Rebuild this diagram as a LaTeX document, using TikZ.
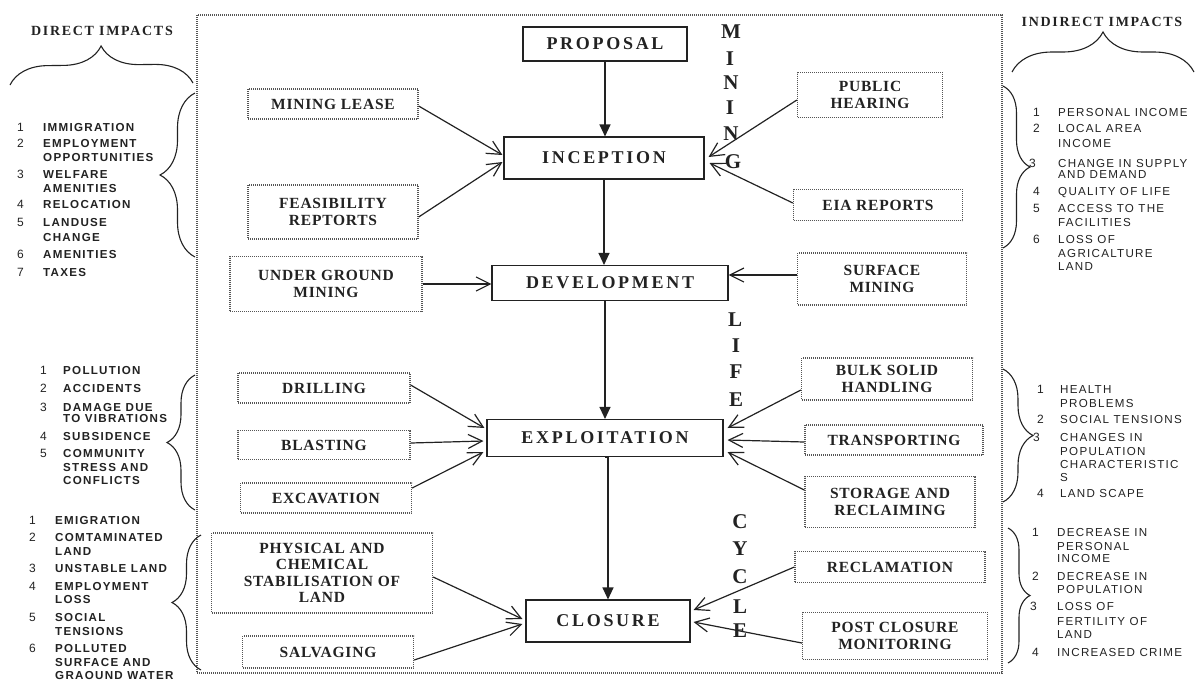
\documentclass[tikz,border=0pt]{standalone}
\usepackage{fontspec}
\setmainfont{Liberation Serif}
\newfontfamily\mainlab{Liberation Serif}[LetterSpace=15]
\newfontfamily\sidelab{Liberation Serif}[LetterSpace=5]
\newfontfamily\headlab{Liberation Serif}[LetterSpace=12]
\newfontfamily\listlab{Liberation Sans}[LetterSpace=11]
\newfontfamily\numlab{Liberation Sans}
\usetikzlibrary{arrows.meta,decorations.pathreplacing}
\definecolor{ink}{HTML}{222222}
\definecolor{dots}{HTML}{555555}
\begin{document}
\begin{tikzpicture}[x=1pt,y=-1pt,
  mainbox/.style={draw=ink, line width=1.1pt, inner sep=0pt, text=ink,
    font=\mainlab\bfseries\fontsize{18}{20}\selectfont},
  sidebox/.style={draw=dots, line width=1.3pt, dash pattern=on 1pt off 1pt,
    inner sep=0pt, align=center, text=ink,
    font=\sidelab\bfseries\fontsize{15.5}{16.5}\selectfont},
  link/.style={draw=ink, line width=1.2pt, -{Straight Barb[length=14pt,width=14pt]}},
  flow/.style={draw=ink, line width=1.1pt, -{Triangle[length=12pt,width=11pt]}},
  stage/.style={text=ink, inner sep=0pt, font=\mainlab\bfseries\fontsize{21}{21}\selectfont},
  head/.style={text=ink, inner sep=0pt, font=\headlab\bfseries\fontsize{14}{15}\selectfont},
  impl/.style={anchor=base west, inner sep=0pt, text=ink,
    font=\listlab\bfseries\fontsize{11.6}{12}\selectfont},
  impr/.style={anchor=base west, inner sep=0pt, text=ink,
    font=\listlab\fontsize{11.6}{12}\selectfont},
  num/.style={anchor=base west, inner sep=0pt, text=ink,
    font=\numlab\fontsize{12}{12}\selectfont},
  curly/.style={draw=ink, line width=1.1pt, decorate, decoration={brace, amplitude=#1}},
  frame/.style={draw=dots, line width=1.1pt, dash pattern=on 1pt off 1pt}
]
\useasboundingbox (0,0) rectangle (1197,681);

% outer frame around the life cycle
\draw[frame] (197,15) rectangle (1002,673);

% main stages
\node[mainbox, minimum width=164pt, minimum height=34pt] (prop) at (605,44) {PROPOSAL};
\node[mainbox, minimum width=200pt, minimum height=42pt] (incep) at (604,158) {INCEPTION};
\node[mainbox, minimum width=236pt, minimum height=35pt] (devel) at (610,283) {DEVELOPMENT};
\node[mainbox, minimum width=236pt, minimum height=37pt] (exploit) at (605,438) {EXPLOITATION};
\node[mainbox, minimum width=164pt, minimum height=42pt] (closure) at (608,621) {CLOSURE};

% side activities
\node[sidebox, minimum width=170pt, minimum height=30pt] (lease) at (333,104) {MINING LEASE};
\node[sidebox, minimum width=170pt, minimum height=54pt] (feas) at (333,212) {FEASIBILITY\\REPTORTS};
\node[sidebox, minimum width=192pt, minimum height=55pt] (ug) at (326,284) {UNDER GROUND\\MINING};
\node[sidebox, minimum width=172pt, minimum height=30pt] (drill) at (324,388) {DRILLING};
\node[sidebox, minimum width=172pt, minimum height=29pt] (blast) at (324,445) {BLASTING};
\node[sidebox, minimum width=171pt, minimum height=30pt] (excav) at (326,498) {EXCAVATION};
\node[sidebox, minimum width=221pt, minimum height=80pt] (phys) at (322,573) {PHYSICAL AND\\CHEMICAL\\STABILISATION OF\\LAND};
\node[sidebox, minimum width=171pt, minimum height=32pt] (salv) at (328,652) {SALVAGING};

\node[sidebox, minimum width=145pt, minimum height=45pt] (pub) at (870,95) {PUBLIC\\HEARING};
\node[sidebox, minimum width=169pt, minimum height=31pt] (eia) at (878,205) {EIA REPORTS};
\node[sidebox, minimum width=169pt, minimum height=52pt] (surf) at (882,279) {SURFACE\\MINING};
\node[sidebox, minimum width=171pt, minimum height=42pt] (bulk) at (887,379) {BULK SOLID\\HANDLING};
\node[sidebox, minimum width=178pt, minimum height=30pt] (trans) at (894,440) {TRANSPORTING};
\node[sidebox, minimum width=170pt, minimum height=51pt] (stor) at (890,502) {STORAGE AND\\RECLAIMING};
\node[sidebox, minimum width=190pt, minimum height=31pt] (recl) at (890,567) {RECLAMATION};
\node[sidebox, minimum width=185pt, minimum height=47pt] (post) at (895,636) {POST CLOSURE\\MONITORING};

% flow between stages
\draw[flow] (prop.south) -- (prop.south |- incep.north);
\draw[flow] (incep.south) -- (incep.south |- devel.north);
\draw[flow] (exploit.north |- devel.south) -- (exploit.north);
\draw[flow] (exploit.south) -- (exploit.south -| closure.north) -- (closure.north);

% inputs to the stages
\draw[link] ([yshift=-2pt]lease.east) -- ([xshift=-1pt,yshift=3pt]incep.west);
\draw[link] ([yshift=-5pt]feas.east) -- ([xshift=-1pt,yshift=-4pt]incep.west);
\draw[link] ([yshift=-5pt]pub.west) -- ([xshift=4pt,yshift=1pt]incep.east);
\draw[link] ([yshift=2pt]eia.west) -- ([xshift=5pt,yshift=-5pt]incep.east);
\draw[link] (ug.east) -- (ug.east -| devel.west);
\draw[link] ([yshift=4pt]surf.west) -- ([yshift=4pt]surf.west -| devel.east);
\draw[link] ([yshift=3pt]drill.east) -- ([xshift=-2pt,yshift=10pt]exploit.west);
\draw[link] ([yshift=2pt]blast.east) -- ([xshift=-3pt,yshift=-3pt]exploit.west);
\draw[link] ([yshift=10pt]excav.east) -- ([xshift=-3pt,yshift=-14pt]exploit.west);
\draw[link] ([yshift=-11pt]bulk.west) -- ([xshift=4pt,yshift=10pt]exploit.east);
\draw[link] ([yshift=-2pt]trans.west) -- ([xshift=4pt,yshift=-2pt]exploit.east);
\draw[link] ([yshift=12pt]stor.west) -- ([xshift=4pt,yshift=-14pt]exploit.east);
\draw[link] ([yshift=-4pt]phys.east) -- ([xshift=-3pt,yshift=2pt]closure.west);
\draw[link] ([yshift=-8pt]salv.east) -- ([xshift=-3pt,yshift=-3pt]closure.west);
\draw[link] (recl.west) -- ([xshift=3pt,yshift=11pt]closure.east);
\draw[link] ([yshift=-7pt]post.west) -- ([xshift=3pt,yshift=-1pt]closure.east);

% vertical title
\node[stage] (t1) at (731,32) {M};
\node[stage] (t2) at (730,59) {I};
\node[stage] (t3) at (731,83) {N};
\node[stage] (t4) at (730,108) {I};
\node[stage] (t5) at (731,134) {N};
\node[stage] (t6) at (733,162) {G};
\node[stage] (t7) at (735,320) {L};
\node[stage] (t8) at (736,346) {I};
\node[stage] (t9) at (736,372) {F};
\node[stage] (t10) at (736,400) {E};
\node[stage] (t11) at (740,522) {C};
\node[stage] (t12) at (740,549) {Y};
\node[stage] (t13) at (740,577) {C};
\node[stage] (t14) at (740,607) {L};
\node[stage] (t15) at (740,631) {E};

% headings and their braces
\node[head] (dir) at (102,31) {DIRECT IMPACTS};
\node[head] (ind) at (1102,22) {INDIRECT IMPACTS};
\draw[curly=38] (10,85) -- (193,83);
\draw[curly=40] (1012,72) -- (1194,72);

% direct impacts braces
\draw[curly=35] (195,257) -- (195,93);
\draw[curly=28] (195,510) -- (195,375);
\draw[curly=29] (201,670) -- (201,535);
% indirect impacts braces
\draw[curly=27] (1003,86) -- (1003,248);
\draw[curly=30] (1003,369) -- (1003,502);
\draw[curly=22] (1008,528) -- (1008,663);

% direct impacts: inception and development
\node[num] (a1n) at (17,131) {1};
\node[impl] (a1) at (43,131) {IMMIGRATION};
\node[num] (a2n) at (17,147) {2};
\node[impl] (a2) at (43,147) {EMPLOYMENT};
\node[impl] (a2b) at (43,161) {OPPORTUNITIES};
\node[num] (a3n) at (17,178) {3};
\node[impl] (a3) at (43,178) {WELFARE};
\node[impl] (a3b) at (43,192) {AMENITIES};
\node[num] (a4n) at (17,208) {4};
\node[impl] (a4) at (43,208) {RELOCATION};
\node[num] (a5n) at (17,226) {5};
\node[impl] (a5) at (43,226) {LANDUSE};
\node[impl] (a5b) at (43,241) {CHANGE};
\node[num] (a6n) at (17,258) {6};
\node[impl] (a6) at (43,258) {AMENITIES};
\node[num] (a7n) at (17,276) {7};
\node[impl] (a7) at (43,276) {TAXES};

% direct impacts: exploitation
\node[num] (b1n) at (40,374) {1};
\node[impl] (b1) at (63,374) {POLLUTION};
\node[num] (b2n) at (40,392) {2};
\node[impl] (b2) at (63,392) {ACCIDENTS};
\node[num] (b3n) at (40,411) {3};
\node[impl] (b3) at (63,411) {DAMAGE DUE};
\node[impl] (b3b) at (63,422) {TO VIBRATIONS};
\node[num] (b4n) at (40,440) {4};
\node[impl] (b4) at (63,440) {SUBSIDENCE};
\node[num] (b5n) at (40,457) {5};
\node[impl] (b5) at (63,457) {COMMUNITY};
\node[impl] (b5b) at (63,471) {STRESS AND};
\node[impl] (b5c) at (63,484) {CONFLICTS};

% direct impacts: closure
\node[num] (c1n) at (29,524) {1};
\node[impl] (c1) at (55,524) {EMIGRATION};
\node[num] (c2n) at (29,541) {2};
\node[impl] (c2) at (55,541) {COMTAMINATED};
\node[impl] (c2b) at (55,555) {LAND};
\node[num] (c3n) at (29,572) {3};
\node[impl] (c3) at (55,572) {UNSTABLE LAND};
\node[num] (c4n) at (29,590) {4};
\node[impl] (c4) at (55,590) {EMPLOYMENT};
\node[impl] (c4b) at (55,603) {LOSS};
\node[num] (c5n) at (29,621) {5};
\node[impl] (c5) at (55,621) {SOCIAL};
\node[impl] (c5b) at (55,635) {TENSIONS};
\node[num] (c6n) at (29,652) {6};
\node[impl] (c6) at (55,652) {POLLUTED};
\node[impl] (c6b) at (55,666) {SURFACE AND};
\node[impl] (c6c) at (55,679) {GRAOUND WATER};

% indirect impacts: inception and development
\node[num] (d1n) at (1033,116) {1};
\node[impr] (d1) at (1058,116) {PERSONAL INCOME};
\node[num] (d2n) at (1033,132) {2};
\node[impr] (d2) at (1058,132) {LOCAL AREA};
\node[impr] (d2b) at (1058,147) {INCOME};
\node[num] (d3n) at (1029,167) {3};
\node[impr] (d3) at (1058,167) {CHANGE IN SUPPLY};
\node[impr] (d3b) at (1058,178) {AND DEMAND};
\node[num] (d4n) at (1033,195) {4};
\node[impr] (d4) at (1058,195) {QUALITY OF LIFE};
\node[num] (d5n) at (1033,212) {5};
\node[impr] (d5) at (1058,212) {ACCESS TO THE};
\node[impr] (d5b) at (1058,226) {FACILITIES};
\node[num] (d6n) at (1033,243) {6};
\node[impr] (d6) at (1058,243) {LOSS OF};
\node[impr] (d6b) at (1058,257) {AGRICALTURE};
\node[impr] (d6c) at (1058,270) {LAND};

% indirect impacts: exploitation
\node[num] (e1n) at (1037,393) {1};
\node[impr] (e1) at (1060,393) {HEALTH};
\node[impr] (e1b) at (1060,407) {PROBLEMS};
\node[num] (e2n) at (1037,423) {2};
\node[impr] (e2) at (1060,423) {SOCIAL TENSIONS};
\node[num] (e3n) at (1033,441) {3};
\node[impr] (e3) at (1060,441) {CHANGES IN};
\node[impr] (e3b) at (1060,455) {POPULATION};
\node[impr] (e3c) at (1060,468) {CHARACTERISTIC};
\node[impr] (e3d) at (1060,481) {S};
\node[num] (e4n) at (1037,497) {4};
\node[impr] (e4) at (1060,497) {LAND SCAPE};

% indirect impacts: closure
\node[num] (f1n) at (1032,536) {1};
\node[impr] (f1) at (1057,536) {DECREASE IN};
\node[impr] (f1b) at (1057,550) {PERSONAL};
\node[impr] (f1c) at (1057,562) {INCOME};
\node[num] (f2n) at (1032,580) {2};
\node[impr] (f2) at (1057,580) {DECREASE IN};
\node[impr] (f2b) at (1057,593) {POPULATION};
\node[num] (f3n) at (1030,610) {3};
\node[impr] (f3) at (1057,610) {LOSS OF};
\node[impr] (f3b) at (1057,625) {FERTILITY OF};
\node[impr] (f3c) at (1057,638) {LAND};
\node[num] (f4n) at (1032,656) {4};
\node[impr] (f4) at (1057,656) {INCREASED CRIME};
\end{tikzpicture}
\end{document}
